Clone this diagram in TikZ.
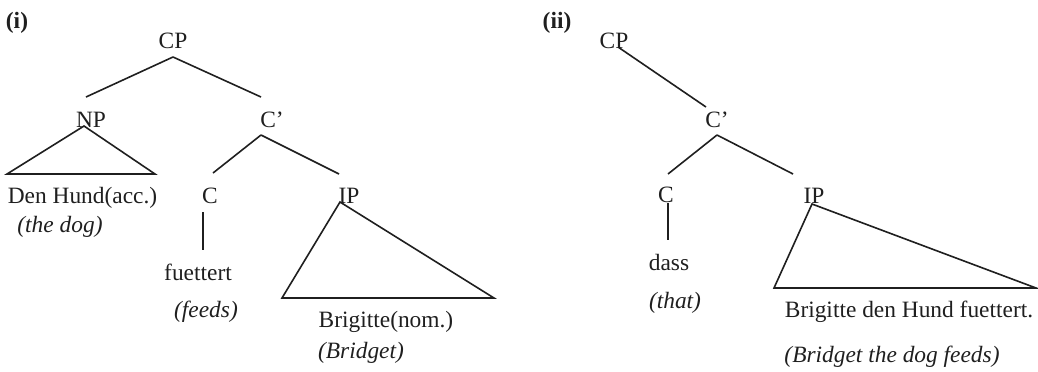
\documentclass[tikz,border=0pt]{standalone}
\usepackage{fontspec}
\setmainfont{Liberation Serif}
\begin{document}
\begin{tikzpicture}[x=0.5pt,y=-0.5pt,
  lbl/.style={anchor=base,inner sep=0pt,font=\fontsize{11.7}{14}\selectfont,text=black!88},
  gl/.style={lbl,font=\fontsize{11.7}{14}\selectfont\itshape},
  num/.style={lbl,font=\fontsize{11.7}{14}\selectfont\bfseries},
  edge/.style={line width=0.8pt,black!88,line join=miter}]
\useasboundingbox (0,0) rectangle (1038,371);
% ---------- panel (i) ----------
\node[num] (ni) at (17,28) {(i)};
\node[lbl] (cp1) at (173,48) {CP};
\node[lbl] (np1) at (91,127) {NP};
\node[lbl] (cb1) at (272,127) {C’};
\node[lbl] (den) at (82.5,203) {Den Hund(acc.)};
\node[gl] (thedog) at (60,232) {(the dog)};
\node[lbl] (c1) at (210,203) {C};
\node[lbl] (ip1) at (349,203) {IP};
\node[lbl] (fu) at (198,280) {fuettert};
\node[gl] (feeds) at (206,317) {(feeds)};
\node[lbl] (brn) at (386,327) {Brigitte(nom.)};
\node[gl] (bridget) at (361,358) {(Bridget)};
\coordinate (cp1b) at (173,57);
\coordinate (np1t) at (86,97);
\coordinate (cb1t) at (261,97);
\coordinate (np1a) at (84,126);
\coordinate (np1l) at (7,174);
\coordinate (np1r) at (155,174);
\coordinate (cb1b) at (261,135);
\coordinate (c1t) at (213,173);
\coordinate (ip1t) at (339,174);
\coordinate (c1b) at (203,212);
\coordinate (fut) at (203,250);
\coordinate (ip1a) at (340,202);
\coordinate (ip1l) at (282,298);
\coordinate (ip1r) at (494,298);
\draw[edge] (cp1b) -- (np1t);
\draw[edge] (cp1b) -- (cb1t);
\draw[edge] (np1a) -- (np1l) -- (np1r) -- cycle;
\draw[edge] (cb1b) -- (c1t);
\draw[edge] (cb1b) -- (ip1t);
\draw[edge] (c1b) -- (fut);
\draw[edge] (ip1a) -- (ip1l) -- (ip1r) -- cycle;
% ---------- panel (ii) ----------
\node[num] (nii) at (557,28) {(ii)};
\node[lbl] (cp2) at (614,48) {CP};
\node[lbl] (cb2) at (717,127) {C’};
\node[lbl] (c2) at (666,202) {C};
\node[lbl] (ip2) at (814,203) {IP};
\node[lbl] (dass) at (669,270) {dass};
\node[gl] (that) at (675,308) {(that)};
\node[lbl] (bdhf) at (909,317) {Brigitte den Hund fuettert.};
\node[gl] (btdf) at (892,362) {(Bridget the dog feeds)};
\coordinate (cp2b) at (618,47);
\coordinate (cb2t) at (706,107);
\coordinate (cb2b) at (717,135);
\coordinate (c2t) at (668,174);
\coordinate (ip2t) at (793,174);
\coordinate (c2b) at (668,203);
\coordinate (dasst) at (668,240);
\coordinate (ip2a) at (812,204);
\coordinate (ip2l) at (774,288);
\coordinate (ip2r) at (1036,288);
\draw[edge] (cp2b) -- (cb2t);
\draw[edge] (cb2b) -- (c2t);
\draw[edge] (cb2b) -- (ip2t);
\draw[edge] (c2b) -- (dasst);
\draw[edge] (ip2a) -- (ip2l) -- (ip2r) -- cycle;
\end{tikzpicture}
\end{document}
